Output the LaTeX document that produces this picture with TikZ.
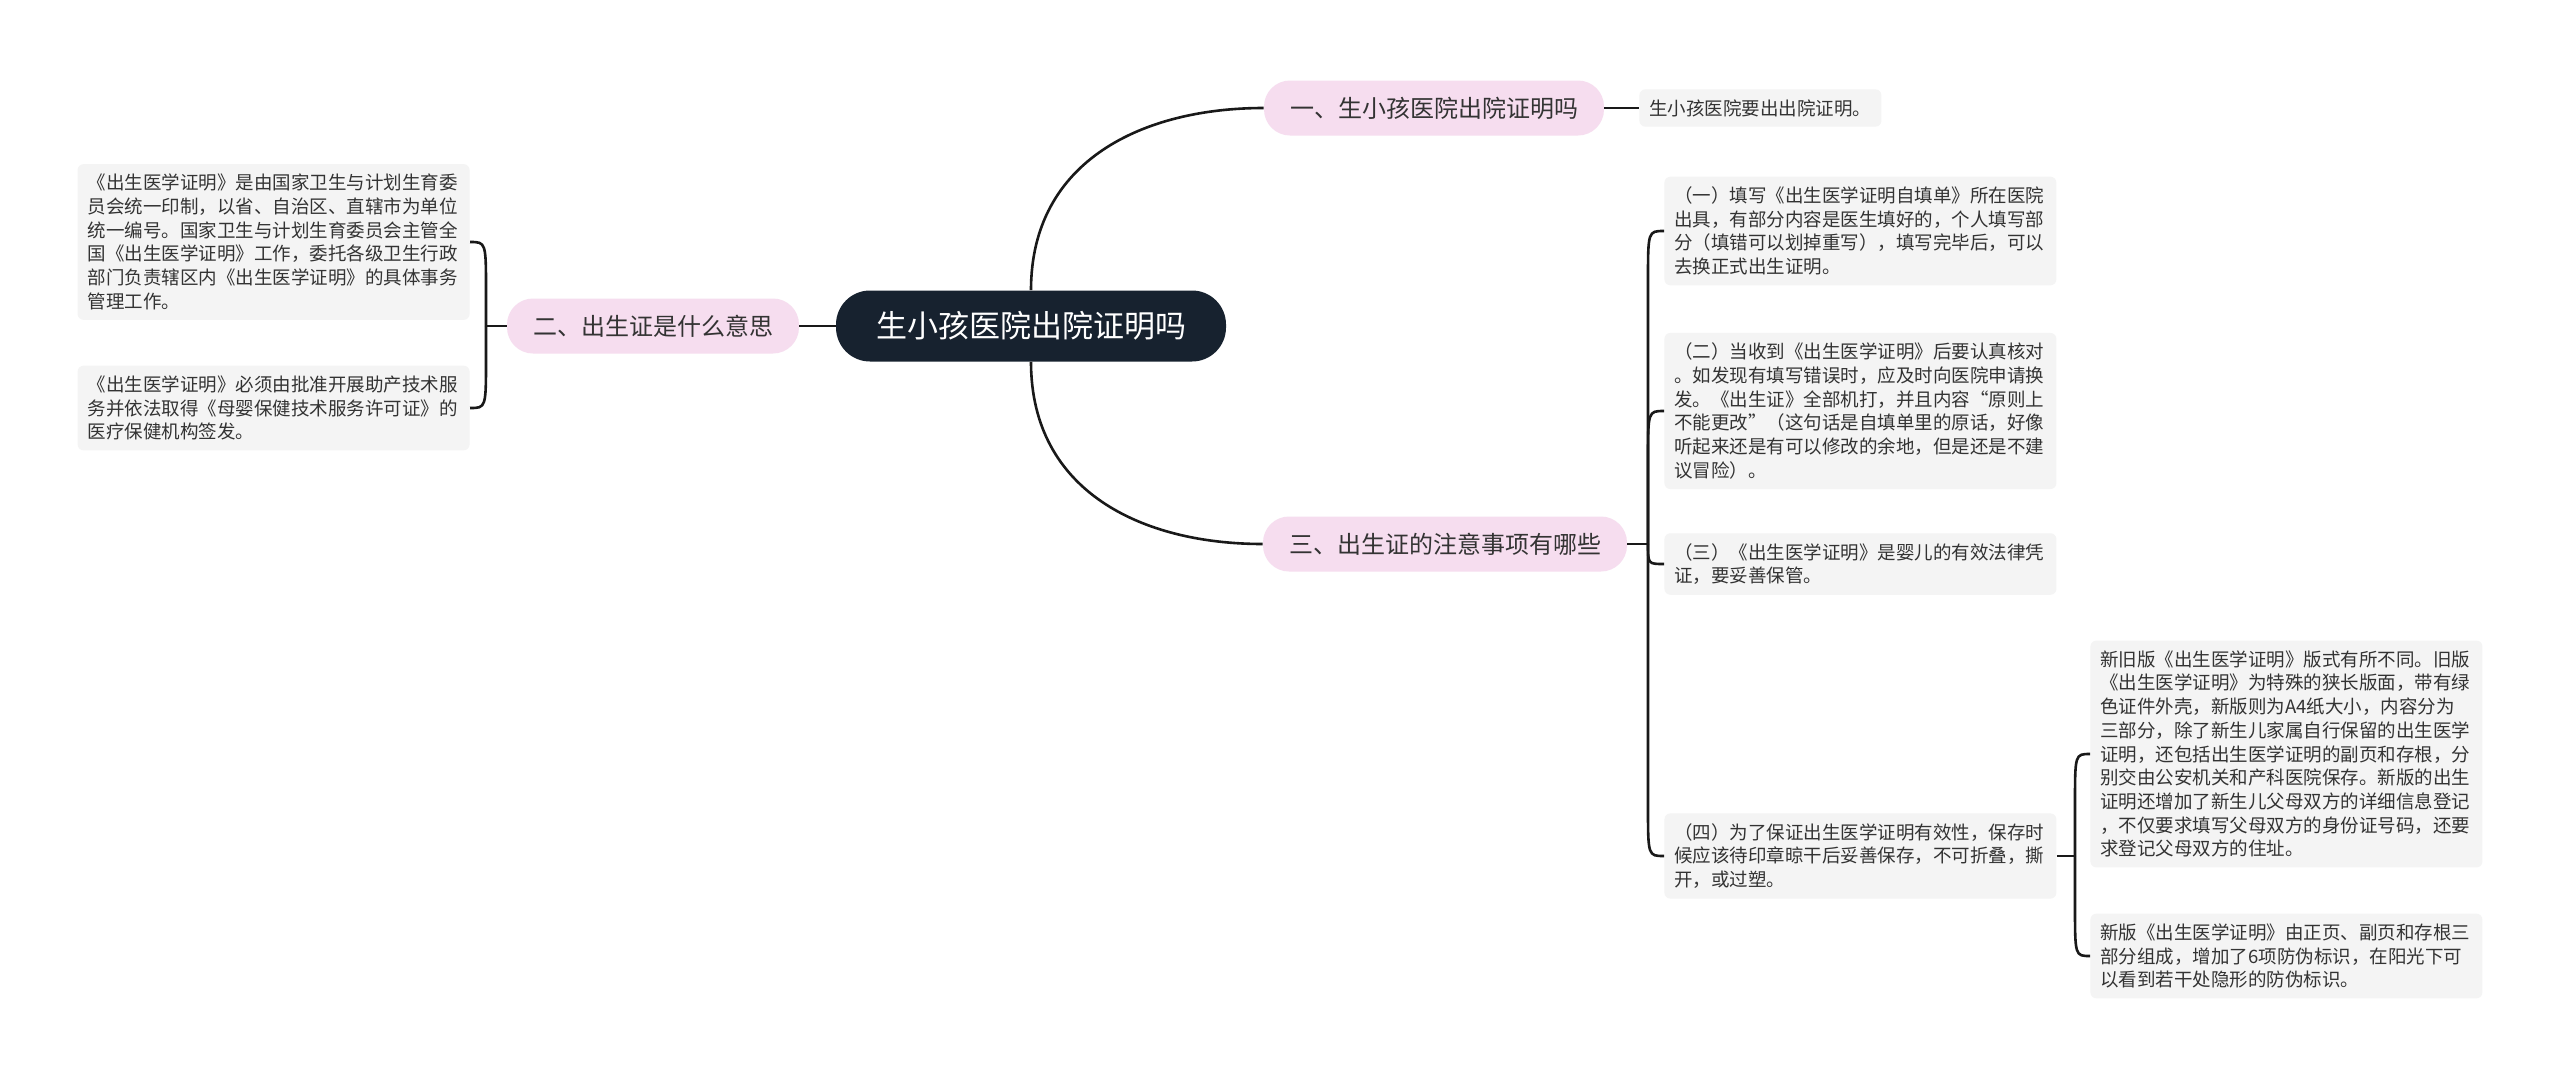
\documentclass[tikz,border=0pt]{standalone}
\usepackage{fontspec}
\setmainfont{Noto Sans CJK SC}
\usetikzlibrary{calc}
\definecolor{rootblue}{HTML}{17222F}
\definecolor{branchpink}{HTML}{F6DDEF}
\definecolor{leafgray}{HTML}{F4F4F4}
\definecolor{inkgray}{HTML}{333333}
\tikzset{
  link/.style={line width=1.3pt, draw=black!90},
  rootbox/.style={fill=rootblue, text=white, rounded corners=17pt, minimum width=195pt, minimum height=35.5pt, font=\fontsize{15.5}{18}\selectfont},
  branchbox/.style={fill=branchpink, text=inkgray, rounded corners=13pt, minimum height=27.5pt, inner xsep=13pt, font=\fontsize{12}{14}\selectfont},
  leafbox/.style={fill=leafgray, text=inkgray, rounded corners=3pt, inner xsep=5pt, inner ysep=5pt, font=\fontsize{9.25}{11.85}\selectfont},
  notebox/.style={leafbox, text width=186pt, align=left},
}
\begin{document}
\begin{tikzpicture}[x=0.5pt, y=-0.5pt]
    \fill[white] (0,0) rectangle (2560,1082);
    \node[rootbox] (root) at (1031,326) {生小孩医院出院证明吗};
    \node[branchbox] (b1) at (1434,108) {一、生小孩医院出院证明吗};
    \node[branchbox] (b2) at (653,326) {二、出生证是什么意思};
    \node[branchbox] (b3) at (1445,544) {三、出生证的注意事项有哪些};
    \node[leafbox, anchor=west] (l1) at (1639,108) {生小孩医院要出出院证明。};
    \node[notebox, anchor=east] (l2a) at (470,242) {《出生医学证明》是由国家卫生与计划生育委\\员会统一印制，以省、自治区、直辖市为单位\\统一编号。国家卫生与计划生育委员会主管全\\国《出生医学证明》工作，委托各级卫生行政\\部门负责辖区内《出生医学证明》的具体事务\\管理工作。};
    \node[notebox, anchor=east] (l2b) at (470,408) {《出生医学证明》必须由批准开展助产技术服\\务并依法取得《母婴保健技术服务许可证》的\\医疗保健机构签发。};
    \node[notebox, anchor=west] (c1) at (1664,231) {（一）填写《出生医学证明自填单》所在医院\\出具，有部分内容是医生填好的，个人填写部\\分（填错可以划掉重写），填写完毕后，可以\\去换正式出生证明。};
    \node[notebox, anchor=west] (c2) at (1664,411) {（二）当收到《出生医学证明》后要认真核对\\。如发现有填写错误时，应及时向医院申请换\\发。《出生证》全部机打，并且内容“原则上\\不能更改”（这句话是自填单里的原话，好像\\听起来还是有可以修改的余地，但是还是不建\\议冒险）。};
    \node[notebox, anchor=west] (c3) at (1664,564) {（三）《出生医学证明》是婴儿的有效法律凭\\证，要妥善保管。};
    \node[notebox, anchor=west] (c4) at (1664,856) {（四）为了保证出生医学证明有效性，保存时\\候应该待印章晾干后妥善保存，不可折叠，撕\\开，或过塑。};
    \node[notebox, anchor=west] (s1) at (2090,754) {新旧版《出生医学证明》版式有所不同。旧版\\《出生医学证明》为特殊的狭长版面，带有绿\\色证件外壳，新版则为A4纸大小，内容分为\\三部分，除了新生儿家属自行保留的出生医学\\证明，还包括出生医学证明的副页和存根，分\\别交由公安机关和产科医院保存。新版的出生\\证明还增加了新生儿父母双方的详细信息登记\\，不仅要求填写父母双方的身份证号码，还要\\求登记父母双方的住址。};
    \node[notebox, anchor=west] (s2) at (2090,956) {新版《出生医学证明》由正页、副页和存根三\\部分组成，增加了6项防伪标识，在阳光下可\\以看到若干处隐形的防伪标识。};
    \coordinate (j2) at (486,326);
    \coordinate (j3) at (1648,544);
    \coordinate (j4) at (2075,856);
    \draw[link] (root.west) -- (b2.east);
    \draw[link] (root.north) .. controls +(0,-130) and +(-120,0) .. (b1.west);
    \draw[link] (root.south) .. controls +(0,130) and +(-120,0) .. (b3.west);
    \draw[link] (b1.east) -- (l1.west);
    \draw[link] (b2.west) -- (j2);
    \draw[link] (j2) -- ($(j2 |- l2a.east)+(0,50)$) .. controls (j2 |- l2a.east) .. (l2a.east);
    \draw[link] (j2) -- ($(j2 |- l2b.east)+(0,-50)$) .. controls (j2 |- l2b.east) .. (l2b.east);
    \draw[link] (b3.east) -- (j3);
    \draw[link] (j3) -- ($(j3 |- c1.west)+(0,50)$) .. controls (j3 |- c1.west) .. (c1.west);
    \draw[link] (j3) -- ($(j3 |- c2.west)+(0,50)$) .. controls (j3 |- c2.west) .. (c2.west);
    \draw[link] (j3) .. controls (j3 |- c3.west) .. (c3.west);
    \draw[link] (j3) -- ($(j3 |- c4.west)+(0,-50)$) .. controls (j3 |- c4.west) .. (c4.west);
    \draw[link] (c4.east) -- (j4);
    \draw[link] (j4) -- ($(j4 |- s1.west)+(0,50)$) .. controls (j4 |- s1.west) .. (s1.west);
    \draw[link] (j4) -- ($(j4 |- s2.west)+(0,-50)$) .. controls (j4 |- s2.west) .. (s2.west);
\end{tikzpicture}
\end{document}
